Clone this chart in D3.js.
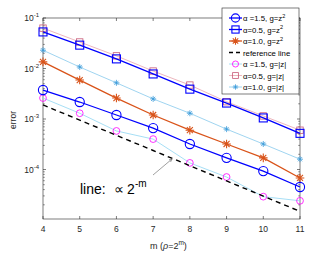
<!DOCTYPE html>
<html>
<head>
<meta charset="utf-8">
<script src="https://cdn.jsdelivr.net/npm/d3@7"></script>
<style>
  body { margin: 0; background: #fff; }
  svg { font-family: "Liberation Sans", Arial, sans-serif; }
</style>
</head>
<body>
<div id="chart"></div>
<script>
// data
const mValues = [4, 5, 6, 7, 8, 9, 10, 11];
const a15z2 = [3.75e-3, 2.17e-3, 1.2e-3, 6.6e-4, 3.2e-4, 1.7e-4, 9.3e-5, 4.5e-5];
const a05z2 = [5.3e-2, 2.9e-2, 1.55e-2, 7.8e-3, 3.9e-3, 2.07e-3, 1.05e-3, 5.2e-4];
const a10z2 = [1.35e-2, 5.9e-3, 2.6e-3, 1.2e-3, 6.0e-4, 3.2e-4, 1.7e-4, 6.8e-5];
const refLine = [1.9e-3, 9.5e-4, 4.75e-4, 2.38e-4, 1.19e-4, 5.94e-5, 2.97e-5, 1.48e-5];
const a15abs = [2.6e-3, 1.3e-3, 5.8e-4, 4.0e-4, 1.35e-4, 7.1e-5, 2.9e-5, 2.4e-5];
const a05abs = [6.3e-2, 3.35e-2, 1.78e-2, 8.9e-3, 4.7e-3, 2.2e-3, 1.15e-3, 6.0e-4];
const a10abs = [2.3e-2, 1.07e-2, 5.2e-3, 2.5e-3, 1.3e-3, 6.3e-4, 3.2e-4, 1.6e-4];
const yTickExps = [-1, -2, -3, -4];

const series = [
  { name: 'α =1.5, g=z', sup: '2', values: a15z2, line: '#0000ff', marker: '#0000ff', shape: 'circle', size: 4.6, lw: 1.3 },
  { name: 'α=0.5, g=z', sup: '2', values: a05z2, line: '#0000ff', marker: '#0000ff', shape: 'square', size: 4, lw: 1.3 },
  { name: 'α=1.0, g=z', sup: '2', values: a10z2, line: '#d95319', marker: '#d95319', shape: 'star', size: 4.3, lw: 1.3 },
  { name: 'reference line', sup: '', values: refLine, line: '#000', marker: null, shape: null, lw: 1.4, dash: '5,4' },
  { name: 'α =1.5, g=|z|', sup: '', values: a15abs, line: '#8fd6f2', marker: '#ff00ff', shape: 'circle', size: 3.4, lw: 0.8 },
  { name: 'α=0.5, g=|z|', sup: '', values: a05abs, line: '#e7a3ad', marker: '#c85a78', shape: 'square', size: 3.2, lw: 0.8 },
  { name: 'α=1.0, g=|z|', sup: '', values: a10abs, line: '#86c9ec', marker: '#3a9ad9', shape: 'star', size: 3, lw: 0.8 }
];

const margin = { top: 18, right: 32, bottom: 35, left: 43 };
const width = 332 - margin.left - margin.right;
const height = 254 - margin.top - margin.bottom;

const svg = d3.select('#chart').append('svg')
  .attr('width', 332).attr('height', 254);
const group = svg.append('g')
  .attr('transform', 'translate(' + margin.left + ',' + margin.top + ')');

const xScale = d3.scaleLinear().domain([4, 11]).range([0, width]);
const yScale = d3.scaleLog().domain([1e-5, 1e-1]).range([height + 1, 0]);

// axes box
group.append('rect')
  .attr('width', width).attr('height', height)
  .attr('fill', 'none').attr('stroke', '#262626').attr('stroke-width', 0.6);

// x ticks (inward, bottom and top)
mValues.forEach((m) => {
  const x = xScale(m);
  group.append('line').attr('x1', x).attr('x2', x).attr('y1', height).attr('y2', height - 3)
    .attr('stroke', '#262626').attr('stroke-width', 0.6);
  group.append('line').attr('x1', x).attr('x2', x).attr('y1', 0).attr('y2', 3)
    .attr('stroke', '#262626').attr('stroke-width', 0.6);
  group.append('text').attr('x', x).attr('y', height + 13)
    .attr('text-anchor', 'middle').attr('font-size', 8.5).attr('fill', '#262626')
    .text(m);
});

// y ticks: major + minor
const minorTicks = [];
for (let e = -5; e < -1; e++) {
  for (let k = 2; k <= 9; k++) minorTicks.push(k * Math.pow(10, e));
}
minorTicks.filter((v) => yScale(v) >= 0 && yScale(v) <= height).forEach((v) => {
  const y = yScale(v);
  group.append('line').attr('x1', 0).attr('x2', 1.8).attr('y1', y).attr('y2', y)
    .attr('stroke', '#262626').attr('stroke-width', 0.5);
  group.append('line').attr('x1', width).attr('x2', width - 1.8).attr('y1', y).attr('y2', y)
    .attr('stroke', '#262626').attr('stroke-width', 0.5);
});
yTickExps.forEach((e) => {
  const y = yScale(Math.pow(10, e));
  group.append('line').attr('x1', 0).attr('x2', 3).attr('y1', y).attr('y2', y)
    .attr('stroke', '#262626').attr('stroke-width', 0.6);
  group.append('line').attr('x1', width).attr('x2', width - 3).attr('y1', y).attr('y2', y)
    .attr('stroke', '#262626').attr('stroke-width', 0.6);
  const t = group.append('text').attr('x', -4).attr('y', y + 3)
    .attr('text-anchor', 'end').attr('font-size', 8.5).attr('fill', '#262626');
  t.append('tspan').text('10');
  t.append('tspan').attr('font-size', 6).attr('dy', -4).text(e);
});

// axis labels
svg.append('text')
  .attr('transform', 'translate(16,120) rotate(-90)')
  .attr('text-anchor', 'middle').attr('font-size', 8.5).attr('fill', '#262626')
  .text('error');
const xl = svg.append('text').attr('x', 150).attr('y', 249)
  .attr('font-size', 9).attr('fill', '#262626');
xl.append('tspan').text('m  (');
xl.append('tspan').attr('font-style', 'italic').text('ρ');
xl.append('tspan').text('=2');
xl.append('tspan').attr('font-size', 6.5).attr('dy', -4).text('m');
xl.append('tspan').attr('dy', 4).text(')');

// markers
function drawMarker(sel, shape, size, color, lw) {
  if (shape === 'circle') {
    sel.append('circle').attr('r', size).attr('fill', 'none')
      .attr('stroke', color).attr('stroke-width', lw);
  } else if (shape === 'square') {
    sel.append('rect').attr('x', -size).attr('y', -size)
      .attr('width', 2 * size).attr('height', 2 * size)
      .attr('fill', 'none').attr('stroke', color).attr('stroke-width', lw);
  } else if (shape === 'star') {
    const d = size * 0.7;
    sel.append('path')
      .attr('d', 'M0,' + -size + 'V' + size + 'M' + -size + ',0H' + size +
        'M' + -d + ',' + -d + 'L' + d + ',' + d + 'M' + -d + ',' + d + 'L' + d + ',' + -d)
      .attr('fill', 'none').attr('stroke', color).attr('stroke-width', lw);
  }
}

const line = d3.line()
  .x((d, i) => xScale(mValues[i]))
  .y((d) => yScale(d));

// draw in reverse order so the z^2 series sit on top
series.slice().reverse().forEach((s) => {
  group.append('path').datum(s.values)
    .attr('fill', 'none').attr('stroke', s.line)
    .attr('stroke-width', s.lw)
    .attr('stroke-dasharray', s.dash || null)
    .attr('d', line);
  if (s.shape) {
    s.values.forEach((v, i) => {
      const g = group.append('g')
        .attr('transform', 'translate(' + xScale(mValues[i]) + ',' + yScale(v) + ')');
      drawMarker(g, s.shape, s.size, s.marker, s.lw > 1 ? 1.1 : 0.8);
    });
  }
});

// annotation
const ann = svg.append('g').attr('font-size', 14).attr('fill', '#000');
ann.append('text').attr('x', 80).attr('y', 194).text('line:');
ann.append('text').attr('x', 114).attr('y', 194).text('∝');
ann.append('text').attr('x', 127).attr('y', 194).text('2');
ann.append('text').attr('x', 135).attr('y', 187).attr('font-size', 10).text('-m');
svg.append('defs').append('marker')
  .attr('id', 'arrow').attr('viewBox', '0 0 10 10').attr('refX', 9).attr('refY', 5)
  .attr('markerWidth', 5).attr('markerHeight', 5).attr('orient', 'auto')
  .append('path').attr('d', 'M0,1L10,5L0,9').attr('fill', 'none')
  .attr('stroke', '#555').attr('stroke-width', 1.5);
svg.append('line').attr('x1', 153).attr('y1', 175).attr('x2', 172).attr('y2', 159)
  .attr('stroke', '#777').attr('stroke-width', 0.7).attr('marker-end', 'url(#arrow)');

// legend
const lx = 222, ly = 8, lw = 77, lh = 86;
const legend = svg.append('g');
legend.append('rect').attr('x', lx).attr('y', ly).attr('width', lw).attr('height', lh)
  .attr('fill', '#fff').attr('stroke', '#262626').attr('stroke-width', 0.6);
series.forEach((s, i) => {
  const y = ly + 10 + i * 11.5;
  legend.append('line').attr('x1', lx + 7).attr('x2', lx + 20).attr('y1', y).attr('y2', y)
    .attr('stroke', s.line).attr('stroke-width', s.lw)
    .attr('stroke-dasharray', s.dash ? '4,3' : null);
  if (s.shape) {
    const g = legend.append('g').attr('transform', 'translate(' + (lx + 13.5) + ',' + y + ')');
    drawMarker(g, s.shape, s.size * 0.9, s.marker, s.lw > 1 ? 1.1 : 0.8);
  }
  const t = legend.append('text').attr('x', lx + 21).attr('y', y + 3)
    .attr('font-size', 7.8).attr('fill', '#000');
  t.append('tspan').text(s.name);
  if (s.sup) t.append('tspan').attr('font-size', 5.5).attr('dy', -3.5).text(s.sup);
});
</script>
</body>
</html>
